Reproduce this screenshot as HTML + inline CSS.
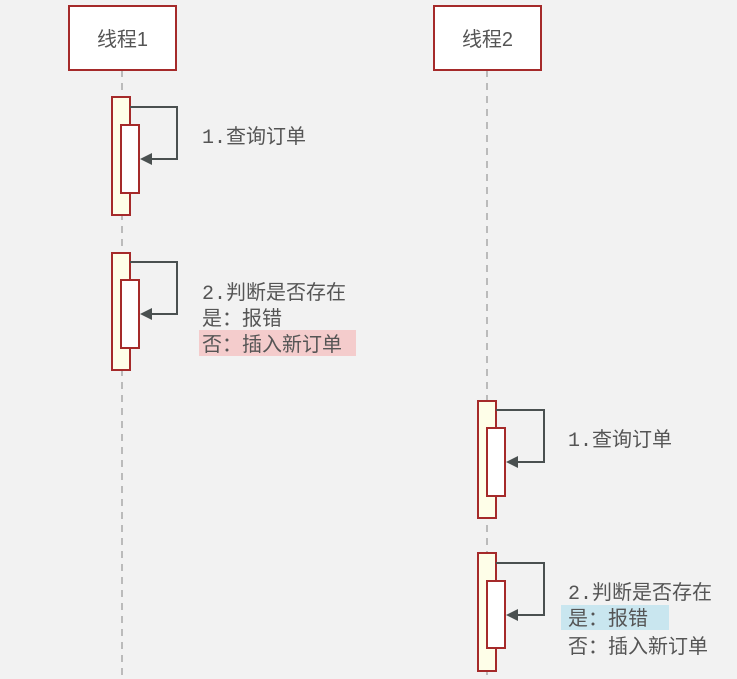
<!DOCTYPE html><html><head><style>body{margin:0;background:#f2f2f2}svg{display:block}text{font-family:"Liberation Mono","Noto Sans CJK SC",monospace;font-size:20px;fill:#555}</style></head><body>
<svg width="737" height="679" viewBox="0 0 737 679">
<line x1="122" y1="70" x2="122" y2="679" stroke="#bbb" stroke-width="2" stroke-dasharray="7,6"/>
<line x1="487" y1="70" x2="487" y2="679" stroke="#bbb" stroke-width="2" stroke-dasharray="7,6"/>
<rect x="69" y="6" width="107" height="64" fill="#fff" stroke="#a52a2a" stroke-width="2"/>
<text x="122.5" y="46" text-anchor="middle" font-size="22" style="font-family:'Liberation Sans','Noto Sans CJK SC',sans-serif">线程1</text>
<rect x="434" y="6" width="107" height="64" fill="#fff" stroke="#a52a2a" stroke-width="2"/>
<text x="487.5" y="46" text-anchor="middle" font-size="22" style="font-family:'Liberation Sans','Noto Sans CJK SC',sans-serif">线程2</text>
<g stroke="#a52a2a" stroke-width="2">
<rect x="112" y="97" width="18" height="118" fill="#fefee8"/><rect x="121" y="125" width="18" height="68" fill="#fff"/>
<rect x="112" y="253" width="18" height="117" fill="#fefee8"/><rect x="121" y="280" width="18" height="68" fill="#fff"/>
<rect x="478" y="401" width="18" height="117" fill="#fefee8"/><rect x="487" y="428" width="18" height="68" fill="#fff"/>
<rect x="478" y="553" width="18" height="118" fill="#fefee8"/><rect x="487" y="581" width="18" height="67" fill="#fff"/>
</g>
<g fill="none" stroke="#4a5050" stroke-width="2">
<path d="M130,107 H177 V159 H150"/>
<path d="M130,262 H177 V314 H150"/>
<path d="M496,410 H544 V462 H516"/>
<path d="M496,563 H544 V615 H516"/>
</g>
<g fill="#4a5050">
<path d="M140,159 L152,153 L152,165 Z"/>
<path d="M140,314 L152,308 L152,320 Z"/>
<path d="M506,462 L518,456 L518,468 Z"/>
<path d="M506,615 L518,609 L518,621 Z"/>
</g>
<rect x="199" y="330" width="157" height="26" fill="#f4cccc"/>
<rect x="561" y="605" width="108" height="25" fill="#c9e6ef"/>
<text x="202" y="143">1.查询订单</text>
<text x="202" y="299">2.判断是否存在</text>
<text x="202" y="325">是：报错</text>
<text x="202" y="351">否：插入新订单</text>
<text x="568" y="446">1.查询订单</text>
<text x="568" y="599">2.判断是否存在</text>
<text x="568" y="625">是：报错</text>
<text x="568" y="653">否：插入新订单</text>
</svg></body></html>
